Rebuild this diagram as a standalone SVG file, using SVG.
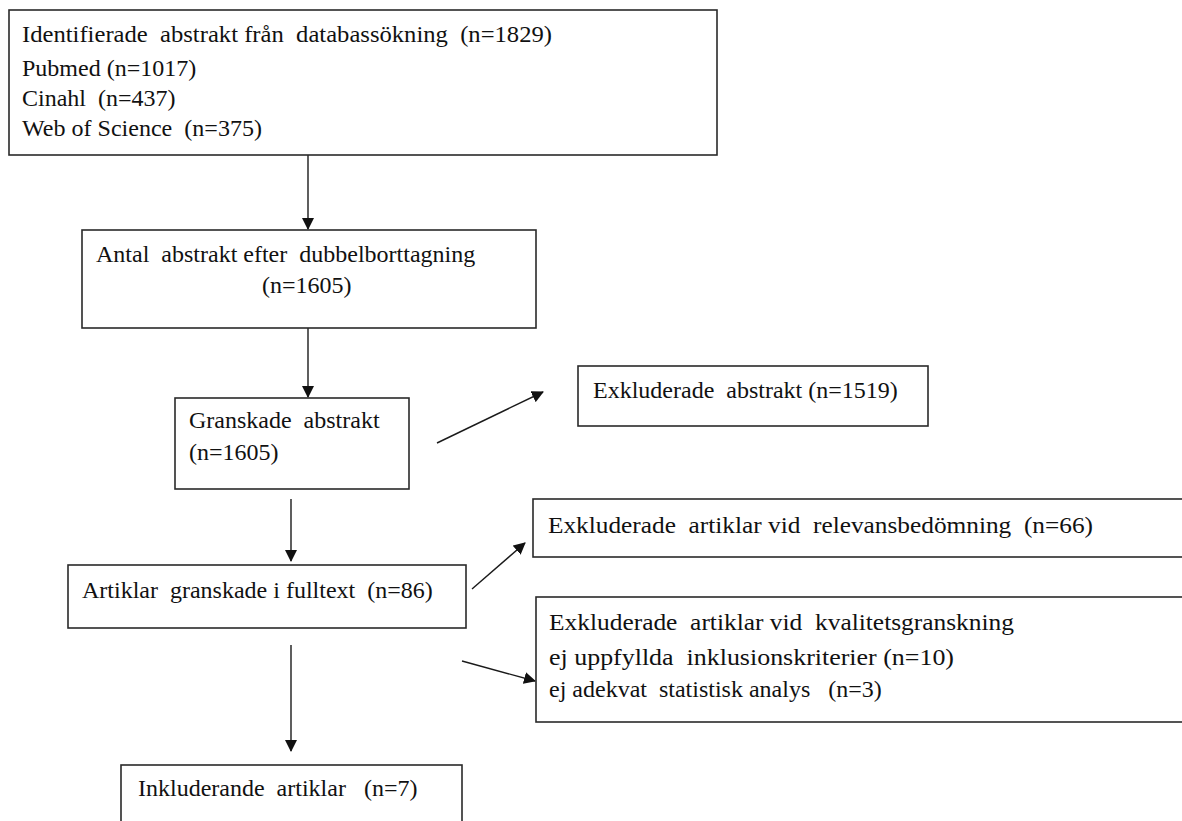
<svg xmlns="http://www.w3.org/2000/svg" width="1182" height="821" viewBox="0 0 1182 821">
<style>
.box{fill:#fff;stroke:#2a2a2a;stroke-width:1.6}
.t{font-family:"Liberation Serif","Times New Roman",serif;font-size:24px;fill:#111;white-space:pre}
.c{stroke:#1a1a1a;stroke-width:1.4;fill:none;marker-end:url(#ah)}
</style>
<defs>
<marker id="ah" markerWidth="12" markerHeight="12" refX="11" refY="6" orient="auto" markerUnits="userSpaceOnUse">
<path d="M0,0 L12,6 L0,12 Z" fill="#111"/>
</marker>
</defs>
<rect width="1182" height="821" fill="#fff"/>
<g id="connectors">
<line class="c" x1="308" y1="155" x2="308" y2="229"/>
<line class="c" x1="308" y1="328" x2="308" y2="397"/>
<line class="c" x1="437" y1="443" x2="543" y2="392"/>
<line class="c" x1="291" y1="499" x2="291" y2="561"/>
<line class="c" x1="472" y1="589" x2="525" y2="543"/>
<line class="c" x1="462" y1="661" x2="535" y2="681"/>
<line class="c" x1="291" y1="645" x2="291" y2="751"/>
</g>
<g id="n1">
<rect class="box" x="9" y="10" width="708" height="145"/>
<text class="t" x="22" y="42" xml:space="preserve" textLength="530" lengthAdjust="spacingAndGlyphs">Identifierade  abstrakt från  databassökning  (n=1829)</text>
<text class="t" x="22" y="76">Pubmed (n=1017)</text>
<text class="t" x="22" y="106" xml:space="preserve">Cinahl  (n=437)</text>
<text class="t" x="22" y="136" xml:space="preserve" textLength="240" lengthAdjust="spacingAndGlyphs">Web of Science  (n=375)</text>
</g>
<g id="n2">
<rect class="box" x="82" y="230" width="454" height="98"/>
<text class="t" x="96" y="262" xml:space="preserve">Antal  abstrakt efter  dubbelborttagning</text>
<text class="t" x="262" y="293">(n=1605)</text>
</g>
<g id="n3">
<rect class="box" x="175" y="398" width="234" height="91"/>
<text class="t" x="189" y="428" xml:space="preserve">Granskade  abstrakt</text>
<text class="t" x="189" y="460">(n=1605)</text>
</g>
<g id="n4">
<rect class="box" x="578" y="366" width="350" height="60"/>
<text class="t" x="593" y="398" xml:space="preserve">Exkluderade  abstrakt (n=1519)</text>
</g>
<g id="n5">
<rect class="box" x="533" y="499" width="660" height="58"/>
<text class="t" x="548" y="533" xml:space="preserve" textLength="545" lengthAdjust="spacingAndGlyphs">Exkluderade  artiklar vid  relevansbedömning  (n=66)</text>
</g>
<g id="n6">
<rect class="box" x="68" y="565" width="398" height="63"/>
<text class="t" x="82" y="598" xml:space="preserve">Artiklar  granskade i fulltext  (n=86)</text>
</g>
<g id="n7">
<rect class="box" x="536" y="597" width="657" height="125"/>
<text class="t" x="549" y="630" xml:space="preserve" textLength="465" lengthAdjust="spacingAndGlyphs">Exkluderade  artiklar vid  kvalitetsgranskning</text>
<text class="t" x="549" y="665" xml:space="preserve" textLength="405" lengthAdjust="spacingAndGlyphs">ej uppfyllda  inklusionskriterier (n=10)</text>
<text class="t" x="549" y="697" xml:space="preserve">ej adekvat  statistisk analys   (n=3)</text>
</g>
<g id="n8">
<rect class="box" x="121" y="765" width="341" height="70"/>
<text class="t" x="138" y="796" xml:space="preserve">Inkluderande  artiklar   (n=7)</text>
</g>
</svg>
